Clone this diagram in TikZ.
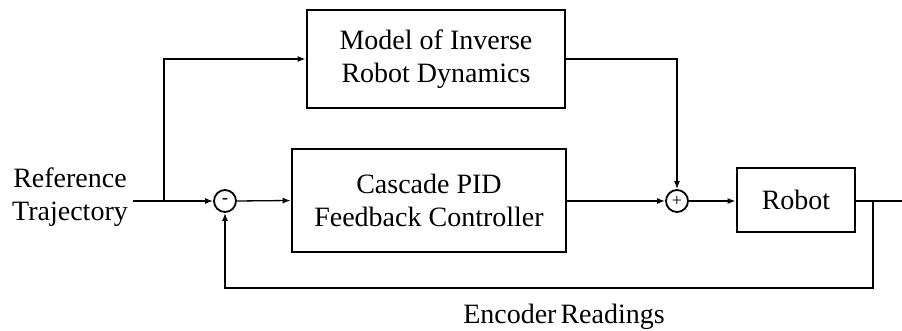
\documentclass[tikz,border=0pt]{standalone}
\usepackage{fontspec}
\setmainfont{Liberation Serif}
\usetikzlibrary{arrows.meta,calc}

\tikzset{
  blockbox/.style={draw, line width=1.4pt, rectangle, inner sep=0pt, align=center,
    font=\fontsize{14}{16.4}\selectfont},
  sumnode/.style={draw, line width=0.9pt, circle, minimum size=11pt, inner sep=0pt,
    font=\fontsize{9}{10}\selectfont},
  label/.style={align=center, inner sep=0pt, font=\fontsize{14}{16.4}\selectfont},
  wire/.style={line width=0.65pt},
  sig/.style={wire, -{Latex[length=4pt,width=3pt]}},
}

\begin{document}
\begin{tikzpicture}[x=0.5pt, y=-0.5pt]
  \useasboundingbox (0,0) rectangle (902,331);

  % blocks
  \node[blockbox, minimum width=129pt, minimum height=49pt] (model) at (436,59)
    {Model of Inverse\\Robot Dynamics};
  \node[blockbox, minimum width=137pt, minimum height=51.5pt] (pid) at (429,200.5)
    {Cascade PID\\Feedback Controller};
  \node[blockbox, minimum width=59pt, minimum height=32pt] (robot) at (796,200)
    {Robot};

  % summing junctions
  \node[sumnode] (s1) at (225,201) {\raisebox{0.3pt}{\textbf{-}}};
  \node[sumnode] (s2) at (677,201) {+};

  % labels
  \node[label] (ref) at (70,197) {Reference\\Trajectory};
  \node[label] (enc) at (564,316.5) {Encoder\kern2pt Readings};

  % junction points
  \coordinate (split) at (164,201);
  \coordinate (branch) at (873,201);
  \coordinate (out) at (902,201);
  \coordinate (fb) at (873,288);
  \coordinate (start) at (133,201);

  % signal flow
  \draw[sig] (start) -- (s1.west);
  \draw[sig] (split) |- (model.west);
  \draw[sig] (s1.east) -- (pid.west);
  \draw[sig] (pid.east |- s2.west) -- (s2.west);
  \draw[sig] (model.east) -| (s2.north);
  \draw[sig] (s2.east) -- (robot.west |- s2.east);
  \draw[wire] (robot.east |- out) -- (out);
  \draw[sig] (branch) -- (fb) -| (s1.south);
\end{tikzpicture}
\end{document}
